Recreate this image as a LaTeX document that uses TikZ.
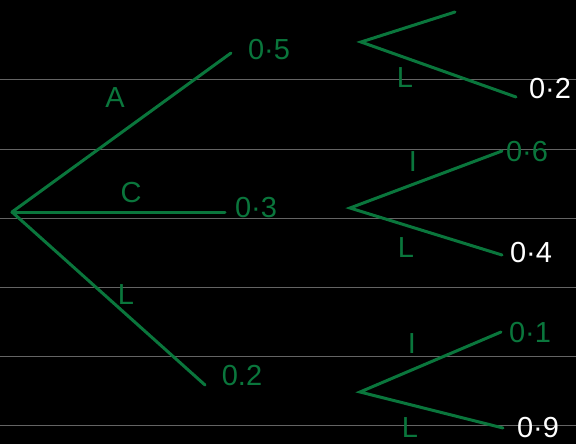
\documentclass[tikz,border=0pt]{standalone}
\usepackage{fontspec}
\setmainfont{Liberation Sans}
\definecolor{ink}{RGB}{10,118,60}
\definecolor{ruling}{RGB}{100,100,100}
\tikzset{
  branch/.style={draw=ink, line width=3pt, line cap=round},
  lbl/.style={text=ink, font=\fontsize{29}{31}\selectfont, inner sep=0pt},
  endprob/.style={lbl, text=white},
}
\begin{document}
\begin{tikzpicture}[x=1pt,y=-1pt]
    \fill[black] (0,0) rectangle (576,444);
    \useasboundingbox (0,0) rectangle (576,444);

    % ruled paper
    \foreach \y in {80,149,218,287,356,425}
        \draw[ruling, line width=1pt] (0,\y) -- (576,\y);

    % first stage
    \coordinate (root) at (12,212);
    \coordinate (a) at (231,53);
    \coordinate (c) at (225,212);
    \coordinate (l) at (205,385);
    \draw[branch] (root) -- (a);
    \draw[branch] (root) -- (c);
    \draw[branch] (root) -- (l);

    \node[lbl] (labA) at (115,98) {A};
    \node[lbl] (labC) at (131,193) {C};
    \node[lbl] (labL) at (126,295) {L};
    \node[lbl] (pa) at (269,50) {0·5};
    \node[lbl] (pc) at (256,208) {0·3};
    \node[lbl] (pl) at (242,376) {0.2};

    % second stage, top
    \coordinate (ta) at (361,42);
    \coordinate (tai) at (455,12);
    \coordinate (tal) at (516,97);
    \draw[branch] (tai) -- (ta) -- (tal);
    \node[lbl] (labTL) at (405,78) {L};
    \node[endprob] (ptl) at (550,89) {0·2};

    % second stage, middle
    \coordinate (mc) at (350,208);
    \coordinate (mci) at (502,151);
    \coordinate (mcl) at (502,255);
    \draw[branch] (mci) -- (mc) -- (mcl);
    \node[lbl] (labMI) at (413,162) {I};
    \node[lbl] (labML) at (406,248) {L};
    \node[lbl] (pmi) at (527,152) {0·6};
    \node[endprob] (pml) at (531,253) {0·4};

    % second stage, bottom
    \coordinate (bl) at (360,392);
    \coordinate (bli) at (501,332);
    \coordinate (bll) at (503,428);
    \draw[branch] (bli) -- (bl) -- (bll);
    \node[lbl] (labBI) at (412,344) {I};
    \node[lbl] (labBL) at (410,428) {L};
    \node[lbl] (pbi) at (530,333) {0·1};
    \node[endprob] (pbl) at (538,428) {0·9};
\end{tikzpicture}
\end{document}
